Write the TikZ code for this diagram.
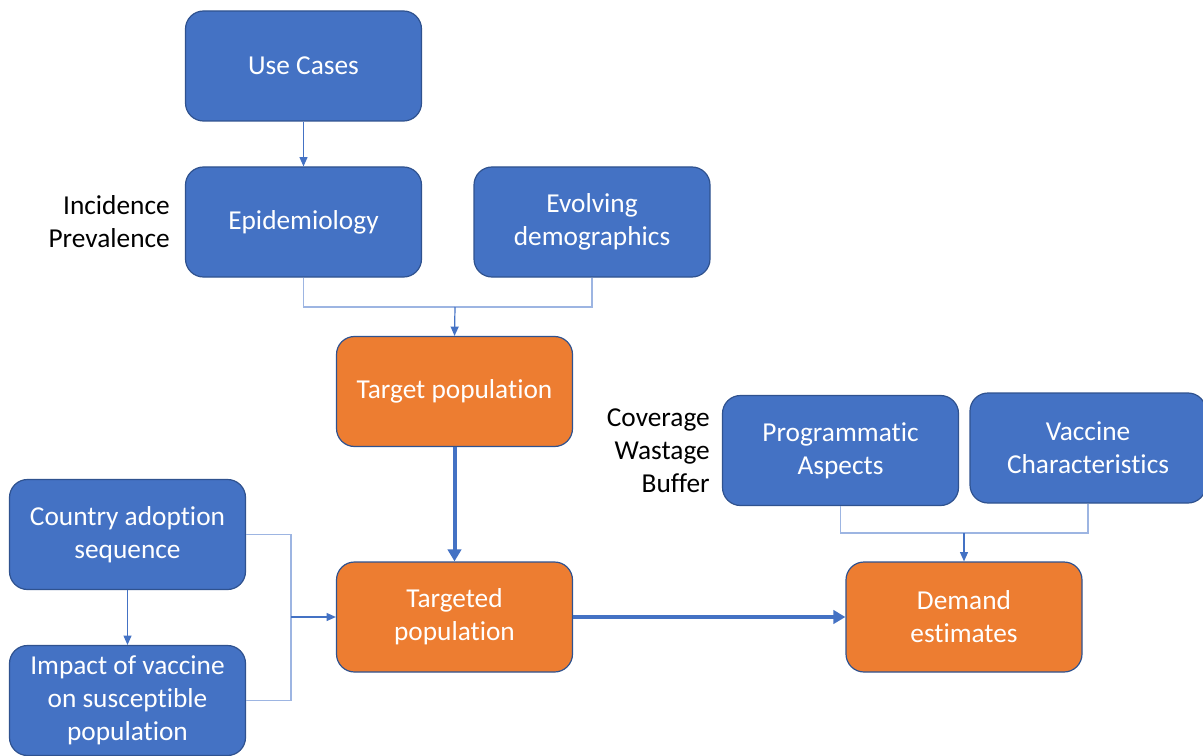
\documentclass[tikz,border=0pt]{standalone}
\usepackage{fontspec}
\setmainfont{Carlito}[RawFeature={-liga;-clig;-calt;-dlig;-rlig}]
\usetikzlibrary{arrows.meta}
\definecolor{boxblue}{HTML}{4472C4}
\definecolor{edgeblue}{HTML}{2F528F}
\definecolor{boxorange}{HTML}{ED7D31}
\definecolor{linkblue}{HTML}{9DB5E2}

\begin{document}
\begin{tikzpicture}[x=0.75pt,y=-0.75pt,
  blk/.style={draw=edgeblue,line width=0.9pt,fill=boxblue,rounded corners=13.5pt,
    minimum width=177pt,minimum height=82.5pt,inner sep=0pt,align=center,
    text=white,font=\fontsize{20.5}{24.75}\selectfont},
  org/.style={blk,fill=boxorange},
  side/.style={align=right,anchor=east,inner sep=0pt,font=\fontsize{20.5}{24.75}\selectfont},
  link/.style={draw=linkblue,line width=0.9pt},
  tip/.style={draw=boxblue,line width=0.9pt,-{Triangle[length=7pt,width=6pt]}},
  bigtip/.style={draw=boxblue,line width=3pt,-{Triangle[length=9pt,width=10pt]}}]
\useasboundingbox (0,0) rectangle (1203,756);

% top column
\node[blk] (usecases) at (303.5,66) {Use Cases};
\node[blk] (epi) at (303.5,222) {Epidemiology};
\node[blk] (evolving) at (592,222) {Evolving\\demographics};
\node[side] (incid) at (170,222) {Incidence\\Prevalence};
\node[org] (target) at (454.5,391.5) {Target population};

% left inputs
\node[blk] (country) at (127.5,534.5) {Country adoption\\sequence};
\node[blk] (impact) at (127.5,700.5) {Impact of vaccine\\on susceptible\\population};
\node[org] (targeted) at (454.5,617) {Targeted\\population};

% right inputs
\node[side] (cover) at (710,451) {Coverage\\Wastage\\Buffer};
\node[blk] (program) at (840.5,450.5) {Programmatic\\Aspects};
\node[blk] (vaccine) at (1088,448) {Vaccine\\Characteristics};
\node[org] (demand) at (964,617) {Demand\\estimates};

% joins
\coordinate (j1) at (455,307);
\coordinate (j2) at (291,617);
\coordinate (j3) at (964,533);

\draw[tip] (usecases) -- (epi);
\draw[link] (epi.south) |- (j1) -| (evolving.south);
\draw[tip] (j1) -- (target.north);
\draw[bigtip] (target) -- (targeted);
\draw[tip] (country) -- (impact);
\draw[link] (country.east) -| (j2) |- (impact.east);
\draw[tip] (j2) -- (targeted.west);
\draw[link] (program.south) |- (j3) -| (vaccine.south);
\draw[tip] (j3) -- (demand.north);
\draw[bigtip] (targeted) -- (demand);
\end{tikzpicture}
\end{document}
